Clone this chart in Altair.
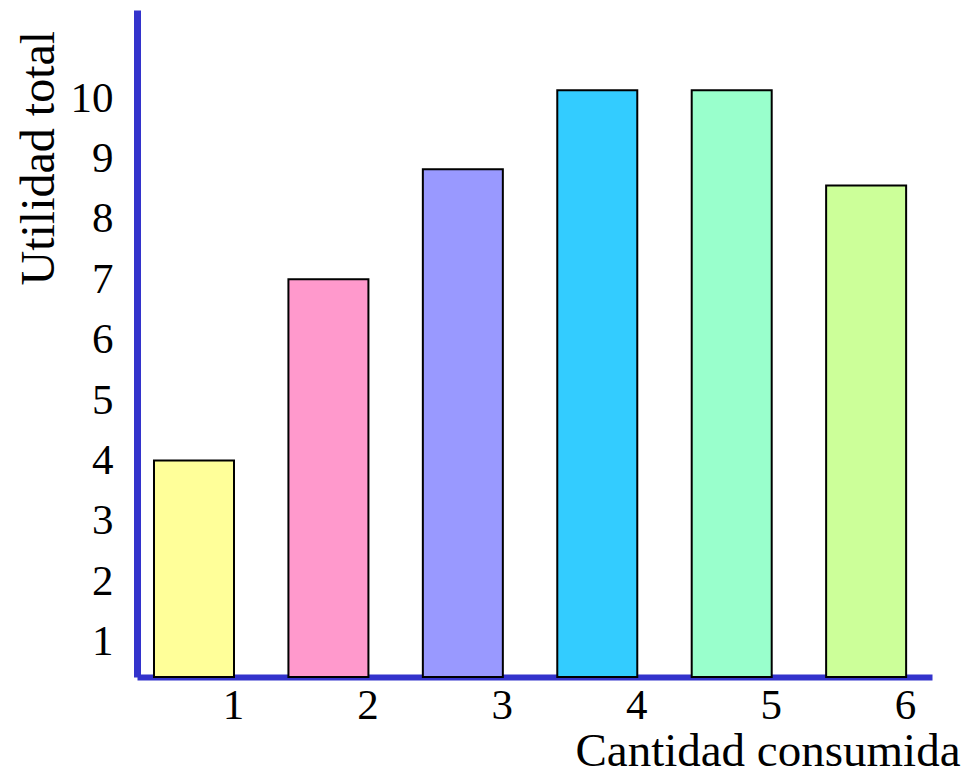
import altair as alt
import pandas as pd

cantidad = [1, 2, 3, 4, 5, 6]
utilidad = [4.0, 7.0, 8.82, 10.13, 10.13, 8.55]
colores = ["#FFFF99", "#FF99CC", "#9999FF", "#33CCFF", "#99FFCC", "#CCFF99"]
y_ticks = [1, 2, 3, 4, 5, 6, 7, 8, 9, 10]

df = pd.DataFrame({"cantidad": cantidad, "utilidad": utilidad, "color": colores})

Y_MIN, Y_MAX = 0.414, 11.457
X_MIN, X_MAX = 0.576, 6.49
LABEL_SHIFT = 0.29  # x labels sit at the right edge of each bar
FONT = "Liberation Serif"
AXIS_BLUE = "#3333CC"

bars = alt.Chart(df).mark_bar(width=80, stroke="black", strokeWidth=2).encode(
    x=alt.X("cantidad:Q",
            scale=alt.Scale(domain=[X_MIN, X_MAX], nice=False, zero=False, padding=0),
            axis=alt.Axis(values=[c + LABEL_SHIFT for c in cantidad],
                          labelExpr="round(datum.value)",
                          grid=False, ticks=False,
                          domainColor=AXIS_BLUE, domainWidth=6,
                          labelFont=FONT, labelFontSize=43, labelColor="black",
                          labelPadding=7, labelFlush=False,
                          title="Cantidad consumida", titleFont=FONT,
                          titleFontSize=47, titleFontWeight="normal",
                          titleColor="black", titleAlign="right",
                          titleAnchor="start", titleBaseline="alphabetic",
                          titleX=823, titleY=88)),
    y=alt.Y("utilidad:Q",
            scale=alt.Scale(domain=[Y_MIN, Y_MAX], nice=False, zero=False, padding=0),
            axis=alt.Axis(values=y_ticks, grid=False, ticks=False,
                          domainColor=AXIS_BLUE, domainWidth=7,
                          labelFont=FONT, labelFontSize=43, labelColor="black",
                          labelPadding=24, labelFlush=False,
                          title="Utilidad total", titleFont=FONT,
                          titleFontSize=48, titleFontWeight="normal",
                          titleColor="black", titleAngle=270,
                          titleAlign="left", titleAnchor="start",
                          titleBaseline="alphabetic",
                          titleX=-84, titleY=275)),
    y2=alt.datum(Y_MIN),
    fill=alt.Color("color:N", scale=None),
)

chart = bars.properties(
    width=795, height=667,
    autosize=alt.AutoSizeParams(type="none"),
    padding={"left": 129, "top": 2, "right": 29, "bottom": 90},
).configure_view(stroke=None)

chart.save("out.html", embed_options={"renderer": "svg", "actions": False})
